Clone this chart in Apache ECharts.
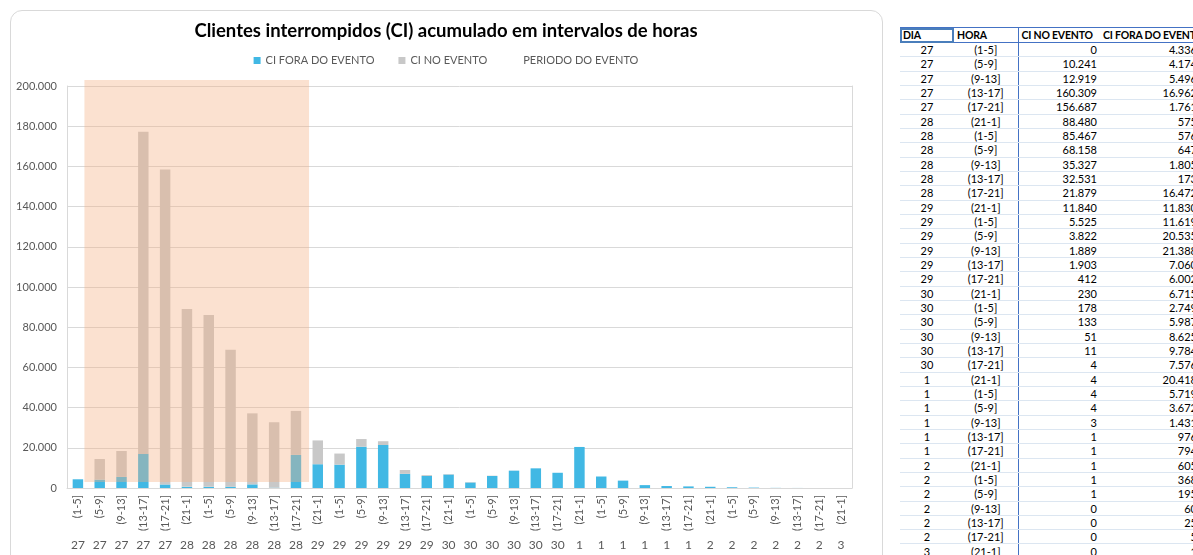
<!DOCTYPE html>
<html>
<head>
<meta charset="utf-8">
<script src="https://cdn.jsdelivr.net/npm/echarts@6/dist/echarts.min.js"></script>
<style>
  html, body { margin: 0; padding: 0; background: #fff; width: 1193px; height: 555px; overflow: hidden; font-family: Lato, "Open Sans", sans-serif; }
  #box { position: absolute; left: 10px; top: 10px; width: 871px; height: 600px; border: 1px solid #d9d9d9; border-radius: 12px; }
  #chart { position: absolute; left: 0; top: 0; width: 892px; height: 555px; }
  #tableWrap { position: absolute; left: 900px; top: 27px; width: 293px; height: 528px; overflow: hidden; }
  table { border-collapse: collapse; table-layout: fixed; width: 300px; font-size: 11px; color: #000; }
  th { font-weight: bold; font-size: 10.5px; text-align: left; padding: 0 0 0 3px; height: 14px; line-height: 14px; border-top: 1px solid #4472c4; border-bottom: 1px solid #4472c4; white-space: nowrap; letter-spacing: -0.2px; }
  th.sel { outline: 2px solid #4a7ebb; outline-offset: -2px; }
  td { height: 13.34px; line-height: 13px; padding: 0 3px; border-bottom: 1px solid #dce6f1; white-space: nowrap; }
  td.c { text-align: center; }
  td.r { text-align: right; }
  .bl { border-left: 1px solid #4472c4; }
</style>
</head>
<body>
<div id="box"></div>
<div id="chart"></div>
<div id="tableWrap"><table id="tbl"></table></div>
<script>
var days = ['27','27','27','27','27','28','28','28','28','28','28','29','29','29','29','29','29',
  '30','30','30','30','30','30','1','1','1','1','1','1','2','2','2','2','2','2','3'];
var hours = ['(1-5]','(5-9]','(9-13]','(13-17]','(17-21]',
  '(21-1]','(1-5]','(5-9]','(9-13]','(13-17]','(17-21]',
  '(21-1]','(1-5]','(5-9]','(9-13]','(13-17]','(17-21]',
  '(21-1]','(1-5]','(5-9]','(9-13]','(13-17]','(17-21]',
  '(21-1]','(1-5]','(5-9]','(9-13]','(13-17]','(17-21]',
  '(21-1]','(1-5]','(5-9]','(9-13]','(13-17]','(17-21]',
  '(21-1]'];
var ciNoEvento = [0, 10241, 12919, 160309, 156687, 88480, 85467, 68158, 35327, 32531, 21879,
  11840, 5525, 3822, 1889, 1903, 412, 230, 178, 133, 51, 11, 4,
  4, 4, 4, 3, 1, 1, 1, 1, 1, 0, 0, 0, 0];
var ciForaEvento = [4336, 4174, 5496, 16962, 1761, 575, 576, 647, 1805, 173, 16472,
  11830, 11619, 20535, 21388, 7060, 6002, 6715, 2749, 5987, 8625, 9784, 7576,
  20418, 5719, 3672, 1431, 976, 794, 605, 368, 195, 60, 25, 5, 1];
// periodo do evento: [primeira categoria, ultima categoria, base, topo]
var eventoPeriodo = [[1, 10, 3000, 203000]];
var yTicks = { min: 0, max: 200000, interval: 20000 };

function fmt(v) {
  return String(v).replace(/\B(?=(\d{3})+(?!\d))/g, '.');
}

// tabela
var html = '<colgroup><col style="width:54px"><col style="width:64px"><col style="width:82px"><col style="width:100px"></colgroup>';
html += '<tr><th class="sel">DIA</th><th>HORA</th><th class="bl">CI NO EVENTO</th><th>CI FORA DO EVENTO</th></tr>';
for (var i = 0; i < days.length; i++) {
  html += '<tr><td class="c">' + days[i] + '</td><td class="c">' + hours[i] + '</td>' +
    '<td class="r bl">' + fmt(ciNoEvento[i]) + '</td>' +
    '<td class="r">' + fmt(ciForaEvento[i]) + '</td></tr>';
}
document.getElementById('tbl').innerHTML = html;

var chart = echarts.init(document.getElementById('chart'));
var txt = '#595959';
var lineCol = '#d9d9d9';

chart.setOption({
  animation: false,
  textStyle: { fontFamily: 'Lato' },
  title: {
    text: 'Clientes interrompidos (CI) acumulado em intervalos de horas',
    left: 'center',
    top: 17,
    textStyle: { fontSize: 18.5, fontWeight: 'bold', color: '#000', fontFamily: 'Lato' }
  },
  legend: {
    top: 50,
    left: 'center',
    itemWidth: 7,
    itemHeight: 7,
    itemGap: 24,
    icon: 'rect',
    textStyle: { fontSize: 11, color: txt },
    data: [
      { name: 'CI FORA DO EVENTO' },
      { name: 'CI NO EVENTO' },
      { name: 'PERIODO DO EVENTO', itemStyle: { opacity: 0 } }
    ]
  },
  grid: { left: 67, right: 40, top: 86, bottom: 67 },
  xAxis: [
    {
      type: 'category',
      data: hours,
      axisLine: { lineStyle: { color: lineCol } },
      axisTick: { interval: 0, length: 70, lineStyle: { color: lineCol } },
      axisLabel: { interval: 0, rotate: 90, margin: 7, fontSize: 11, color: txt }
    },
    {
      type: 'category',
      data: days,
      position: 'bottom',
      axisLine: { show: false },
      axisTick: { show: false },
      axisLabel: { interval: 0, margin: 51, fontSize: 12, color: txt }
    }
  ],
  yAxis: [
    {
      type: 'value',
      min: yTicks.min,
      max: yTicks.max,
      interval: yTicks.interval,
      axisLine: { show: true, lineStyle: { color: lineCol } },
      axisTick: { show: false },
      splitLine: { lineStyle: { color: lineCol } },
      axisLabel: { fontSize: 11, color: txt, margin: 10, formatter: fmt }
    },
    {
      type: 'value',
      position: 'right',
      axisLine: { show: true, lineStyle: { color: lineCol } },
      axisTick: { show: false },
      axisLabel: { show: false },
      splitLine: { show: false }
    }
  ],
  series: [
    {
      name: 'CI FORA DO EVENTO',
      type: 'bar',
      stack: 'ci',
      barWidth: '48%',
      itemStyle: { color: '#41b8e4' },
      data: ciForaEvento
    },
    {
      name: 'CI NO EVENTO',
      type: 'bar',
      stack: 'ci',
      barWidth: '48%',
      itemStyle: { color: '#c8c8c8' },
      data: ciNoEvento
    },
    {
      name: 'PERIODO DO EVENTO',
      type: 'custom',
      clip: false,
      z: 5,
      itemStyle: { color: '#f4b183' },
      encode: { x: [0, 1], y: [2, 3] },
      renderItem: function (params, api) {
        var band = api.size([1, 0])[0];
        var p0 = api.coord([api.value(0), api.value(2)]);
        var p1 = api.coord([api.value(1), api.value(3)]);
        var x0 = p0[0] - band * 0.7;
        var x1 = p1[0] + band * 0.6;
        return {
          type: 'rect',
          shape: { x: x0, y: p1[1], width: x1 - x0, height: p0[1] - p1[1] },
          style: { fill: '#f4b183', opacity: 0.38 }
        };
      },
      data: eventoPeriodo
    }
  ]
});
</script>
</body>
</html>
